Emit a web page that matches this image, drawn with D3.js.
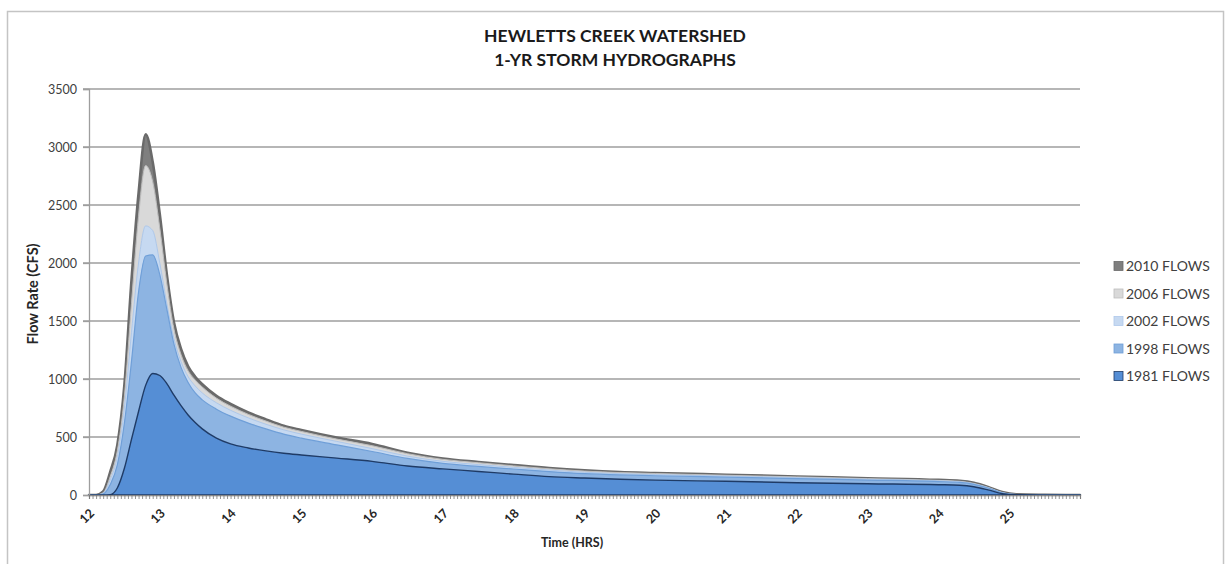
<!DOCTYPE html>
<html>
<head>
<meta charset="utf-8">
<script src="https://cdn.jsdelivr.net/npm/d3@7"></script>
<style>
  body { margin: 0; background: #fff; }
  text { font-family: Lato, "Open Sans", sans-serif; }
</style>
</head>
<body>
<div id="chart"></div>
<script>

// time of each sample (hours)
var hours = [12.0, 12.1, 12.2, 12.3, 12.4, 12.5, 12.6, 12.7, 12.8, 12.9,
  13.0, 13.1, 13.2, 13.3, 13.4, 13.5, 13.6, 13.8, 14.0, 14.25, 14.5, 14.75,
  15.0, 15.5, 16.0, 16.5, 17.0, 17.5, 18.0, 18.5, 19.0, 19.5, 20.0, 21.0,
  22.0, 23.0, 24.0, 24.3, 24.5, 24.7, 24.9, 25.1, 25.5, 26.0];

// flow rates (CFS) per year
var flows2010 = [0, 0, 30, 200, 430, 950, 1850, 2600, 3110, 2870,
  2420, 1900, 1490, 1260, 1110, 1020, 955, 855, 785, 712, 652, 597,
  560, 495, 440, 365, 315, 285, 258, 232, 212, 198, 190, 175,
  160, 145, 130, 122, 105, 70, 25, 6, 2, 0];
var flows2006 = [0, 0, 20, 160, 380, 850, 1650, 2400, 2840, 2700,
  2300, 1820, 1430, 1210, 1070, 990, 930, 835, 765, 695, 637, 585,
  548, 482, 425, 356, 307, 278, 251, 226, 206, 193, 185, 170,
  156, 141, 126, 118, 100, 66, 22, 5, 1, 0];
var flows2002 = [0, 0, 15, 130, 330, 750, 1400, 2000, 2320, 2280,
  2000, 1650, 1350, 1150, 1020, 940, 880, 795, 730, 665, 610, 562,
  525, 462, 400, 335, 290, 262, 238, 215, 196, 184, 176, 163,
  150, 136, 122, 114, 97, 63, 20, 4, 1, 0];
var flows1998 = [0, 0, 8, 90, 260, 620, 1150, 1750, 2060, 2070,
  1900, 1600, 1300, 1100, 970, 880, 820, 740, 680, 620, 570, 525,
  490, 432, 375, 315, 272, 246, 224, 202, 184, 173, 166, 154,
  142, 129, 116, 108, 92, 60, 18, 3, 0, 0];
var flows1981 = [0, 0, 0, 3, 60, 230, 480, 720, 945, 1048,
  1030, 960, 860, 770, 690, 625, 570, 490, 440, 405, 380, 360,
  345, 318, 290, 250, 225, 203, 180, 158, 146, 136, 128, 118,
  106, 97, 89, 84, 71, 44, 12, 2, 0, 0];

var seriesNames = ['2010 FLOWS', '2006 FLOWS', '2002 FLOWS', '1998 FLOWS', '1981 FLOWS'];
var seriesValues = [flows2010, flows2006, flows2002, flows1998, flows1981];
var fills = ['#7f7f7f', '#d9d9d9', '#c6d9f1', '#8db4e2', '#558ed5'];
var strokes = ['#6a6a6a', '#bdbdbd', '#aec8ea', '#6f9fd8', '#1f3b66'];
var strokeWidths = [2.6, 1, 1, 1.2, 1.4];

var xLabels = [12, 13, 14, 15, 16, 17, 18, 19, 20, 21, 22, 23, 24, 25];
var yTicks = [0, 500, 1000, 1500, 2000, 2500, 3000, 3500];

var width = 1225, height = 564;

var svg = d3.select('#chart')
  .append('svg')
  .attr('width', width)
  .attr('height', height);

// chart frame
svg.append('rect')
  .attr('x', 7.5)
  .attr('y', 11.5)
  .attr('width', 1216)
  .attr('height', 570)
  .attr('fill', 'none')
  .attr('stroke', '#c4c4c4')
  .attr('stroke-width', 1.5);

var x = d3.scaleLinear().domain([12, 26]).range([89, 1080]);
var y = d3.scaleLinear().domain([0, 3500]).range([495, 89]);

// gridlines
svg.append('g')
  .selectAll('line')
  .data(yTicks.slice(1))
  .enter()
    .append('line')
    .attr('x1', 83)
    .attr('x2', 1080)
    .attr('y1', function(d){ return y(d); })
    .attr('y2', function(d){ return y(d); })
    .attr('stroke', '#9e9e9e')
    .attr('stroke-width', 1.3);

// areas, back to front
var area = d3.area()
  .curve(d3.curveMonotoneX)
  .x(function(d){ return x(d[0]); })
  .y0(y(0))
  .y1(function(d){ return y(d[1]); });

var layers = svg.append('g');
seriesValues.forEach(function(vals, i){
  var pts = hours.map(function(h, j){ return [h, vals[j]]; });
  layers.append('path')
    .attr('d', area(pts))
    .attr('fill', fills[i])
    .attr('stroke', strokes[i])
    .attr('stroke-width', strokeWidths[i])
    .attr('stroke-linejoin', 'round');
});

// y axis
var yAxis = svg.append('g')
  .attr('transform', 'translate(89,0)')
  .call(d3.axisLeft(y).tickValues(yTicks).tickFormat(d3.format('d')).tickSize(6).tickPadding(6));
yAxis.select('.domain').attr('stroke', '#9e9e9e').attr('stroke-width', 1.3);
yAxis.selectAll('.tick line').attr('stroke', '#9e9e9e').attr('stroke-width', 1.3);
yAxis.selectAll('text')
  .attr('font-size', 12.5)
  .attr('fill', '#404040')
  .style('font-family', 'Lato, sans-serif');

// x axis with a tick at each sample step
var xAxis = svg.append('g')
  .attr('transform', 'translate(0,495)')
  .call(d3.axisBottom(x).tickValues(d3.range(12, 26.001, 0.05)).tickSize(4).tickFormat(''));
xAxis.select('.domain').attr('stroke', '#8a8a8a').attr('stroke-width', 1.2);
xAxis.selectAll('.tick line').attr('stroke', '#777').attr('stroke-width', 0.8);

// hour labels
svg.append('g')
  .selectAll('text')
  .data(xLabels)
  .enter()
    .append('text')
    .attr('transform', function(d){ return 'translate(' + (x(d) + 3) + ',511) rotate(-45)'; })
    .attr('text-anchor', 'end')
    .attr('dy', '0.35em')
    .attr('font-size', 12.5)
    .attr('font-weight', 'bold')
    .attr('fill', '#262626')
    .text(function(d){ return d; });

// titles
svg.append('text')
  .attr('x', 615)
  .attr('y', 42)
  .attr('text-anchor', 'middle')
  .attr('font-size', 17.5)
  .attr('font-weight', 'bold')
  .attr('fill', '#1a1a1a')
  .text('HEWLETTS CREEK WATERSHED');
svg.append('text')
  .attr('x', 615)
  .attr('y', 66)
  .attr('text-anchor', 'middle')
  .attr('font-size', 17.5)
  .attr('font-weight', 'bold')
  .attr('fill', '#1a1a1a')
  .text('1-YR STORM HYDROGRAPHS');

svg.append('text')
  .attr('transform', 'translate(38,294) rotate(-90)')
  .attr('text-anchor', 'middle')
  .attr('font-size', 14.5)
  .attr('font-weight', 'bold')
  .attr('fill', '#262626')
  .text('Flow Rate (CFS)');

svg.append('text')
  .attr('x', 572)
  .attr('y', 547)
  .attr('text-anchor', 'middle')
  .attr('font-size', 12.5)
  .attr('font-weight', 'bold')
  .attr('fill', '#262626')
  .text('Time (HRS)');

// legend
var legend = svg.selectAll('g.legend')
  .data(seriesNames)
  .enter()
    .append('g')
    .classed('legend', true)
    .attr('transform', function(d, i){ return 'translate(1114,' + (266 + i * 27.5) + ')'; });

legend.append('rect')
  .attr('x', 0)
  .attr('y', -4.5)
  .attr('width', 9)
  .attr('height', 9)
  .attr('fill', function(d, i){ return fills[i]; })
  .attr('stroke', function(d, i){ return strokes[i]; })
  .attr('stroke-width', 0.8);

legend.append('text')
  .attr('x', 12)
  .attr('dy', '0.36em')
  .attr('font-size', 14)
  .attr('fill', '#404040')
  .text(function(d){ return d; });

</script>
</body>
</html>
